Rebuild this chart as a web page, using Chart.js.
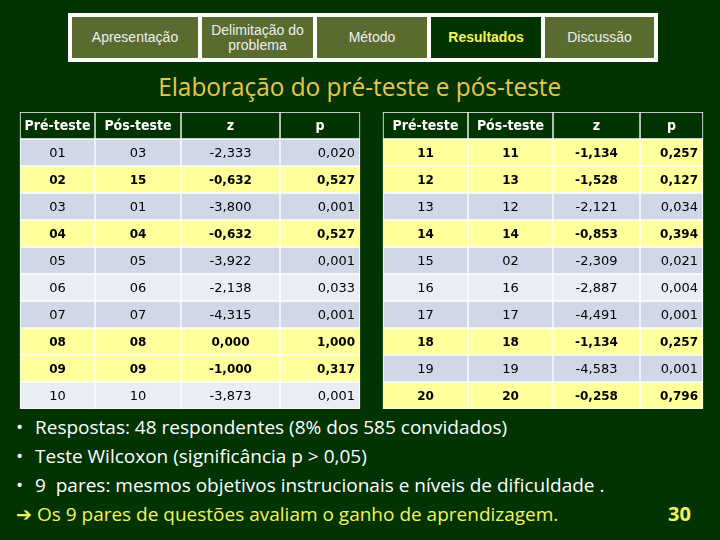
<!DOCTYPE html>
<html>
<head>
<meta charset="utf-8">
<script src="https://cdn.jsdelivr.net/npm/chart.js@4.4.0/dist/chart.umd.min.js"></script>
<style>
  body { margin:0; width:720px; height:540px; background:#023302; overflow:hidden; position:relative; font-family:'Open Sans',sans-serif; }
  #nav { position:absolute; left:68px; top:13px; width:582px; height:41px; padding:4px; background:#fff; display:flex; gap:4px; }
  .btn { height:41px; background:#5a6b30; color:#eee; font:14px 'Liberation Sans',Arial,sans-serif; line-height:15px;
         display:flex; align-items:center; justify-content:center; text-align:center; }
  .btn.on { background:#023302; color:#f4f45a; font-weight:bold; }
  #title { position:absolute; left:0; top:68px; width:720px; text-align:center; color:#e8c64a; font-size:25px; line-height:36px; }
  #title span { display:inline-block; transform:scaleX(0.975); }
  #wrap { position:absolute; left:0; top:112px; width:720px; height:297px; }
  #notes { position:absolute; left:16px; top:413px; color:#fff; font-size:19px; line-height:29px; }
  #notes div { white-space:nowrap; }
  #notes .b { display:inline-block; width:19px; }
  #notes .y { color:#f4f45a; }
  #page { position:absolute; left:668px; top:500px; color:#f4f45a; font:bold 20px 'Open Sans',sans-serif; }
</style>
</head>
<body>
<div id="nav">
  <div class="btn" style="width:126px">Apresentação</div>
  <div class="btn" style="width:111px">Delimitação do<br>problema</div>
  <div class="btn" style="width:110px">Método</div>
  <div class="btn on" style="width:110px">Resultados</div>
  <div class="btn" style="width:109px">Discussão</div>
</div>
<div id="title"><span>Elaboração do pré-teste e pós-teste</span></div>
<div id="wrap"><canvas id="tbl"></canvas></div>
<div id="notes">
  <div><span class="b">•</span>Respostas: 48 respondentes (8% dos 585 convidados)</div>
  <div><span class="b">•</span>Teste Wilcoxon (significância p &gt; 0,05)</div>
  <div><span class="b">•</span>9&nbsp; pares: mesmos objetivos instrucionais e níveis de dificuldade .</div>
  <div class="y">➔ Os 9 pares de questões avaliam o ganho de aprendizagem.</div>
</div>
<div id="page">30</div>

<script>
// ── dados ─────────────────────────────────────────────────────────────
const headers  = ['Pré-teste', 'Pós-teste', 'z', 'p'];

const preLeft  = ['01','02','03','04','05','06','07','08','09','10'];
const posLeft  = ['03','15','01','04','05','06','07','08','09','10'];
const zLeft    = [-2.333, -0.632, -3.800, -0.632, -3.922, -2.138, -4.315, 0.000, -1.000, -3.873];
const pLeft    = [0.020, 0.527, 0.001, 0.527, 0.001, 0.033, 0.001, 1.000, 0.317, 0.001];

const preRight = ['11','12','13','14','15','16','17','18','19','20'];
const posRight = ['11','13','12','14','02','16','17','18','19','20'];
const zRight   = [-1.134, -1.528, -2.121, -0.853, -2.309, -2.887, -4.491, -1.134, -4.583, -0.258];
const pRight   = [0.257, 0.127, 0.034, 0.394, 0.021, 0.004, 0.001, 0.257, 0.001, 0.796];

// ── layout (bordas das colunas em px do canvas) ───────────────────────
const edgesLeft  = [20, 95, 181, 280, 360];
const edgesRight = [383, 468, 553, 640, 703];
const ALPHA = 0.05;

const COL = { head:'#023302', dark:'#d0d8e8', light:'#e9edf4', sig:'#ffff9c', border:'#ffffff' };
const fmt = v => v.toFixed(3).replace('.', ',');
const rowLabels = ['h'].concat(preLeft.map((_, i) => 'r' + i));

function rowColor(p, i) {
  if (p > ALPHA) return COL.sig;
  return i % 2 === 0 ? COL.dark : COL.light;
}

function buildCols(edges, pre, pos, z, p) {
  const cols = [pre, pos, z.map(fmt), p.map(fmt)];
  return cols.map((vals, c) => ({
    data: rowLabels.map(() => [edges[c], edges[c + 1]]),
    texts: [headers[c]].concat(vals),
    bold: [true].concat(p.map(v => v > ALPHA)),
    align: c === 3 ? 'right' : 'center',
    backgroundColor: [COL.head].concat(p.map((v, i) => rowColor(v, i))),
    borderColor: COL.border,
    borderWidth: 1,
    borderSkipped: false,
    grouped: false,
    barPercentage: 1,
    categoryPercentage: 1,
  }));
}

const cellText = {
  id: 'cellText',
  afterDatasetsDraw(chart) {
    const ctx = chart.ctx;
    ctx.save();
    ctx.textBaseline = 'middle';
    chart.data.datasets.forEach((ds, i) => {
      chart.getDatasetMeta(i).data.forEach((bar, j) => {
        const { x, y, base } = bar.getProps(['x', 'y', 'base'], true);
        const head = j === 0;
        if (head) {
          ctx.fillStyle = '#ffffff';
          ctx.font = "bold 14px 'DejaVu Sans Condensed', 'DejaVu Sans', sans-serif";
        } else {
          ctx.fillStyle = '#000000';
          ctx.font = ds.bold[j] ? "bold 12px 'DejaVu Sans', Verdana, sans-serif"
                                : "13px 'DejaVu Sans', Verdana, sans-serif";
        }
        if (ds.align === 'right' && !head) {
          ctx.textAlign = 'right';
          ctx.fillText(ds.texts[j], Math.max(x, base) - 5, y + 1);
        } else {
          ctx.textAlign = 'center';
          ctx.fillText(ds.texts[j], (x + base) / 2, y + 1);
        }
      });
    });
    ctx.restore();
  },
};

new Chart(document.getElementById('tbl'), {
  type: 'bar',
  data: {
    labels: rowLabels,
    datasets: buildCols(edgesLeft, preLeft, posLeft, zLeft, pLeft)
      .concat(buildCols(edgesRight, preRight, posRight, zRight, pRight)),
  },
  options: {
    indexAxis: 'y',
    responsive: true,
    maintainAspectRatio: false,
    animation: false,
    layout: { padding: 0 },
    plugins: { legend: { display: false }, tooltip: { enabled: false } },
    scales: {
      x: { type: 'linear', min: 0, max: 720, display: false },
      y: { type: 'category', display: false, offset: true },
    },
  },
  plugins: [cellText],
});
</script>
</body>
</html>
